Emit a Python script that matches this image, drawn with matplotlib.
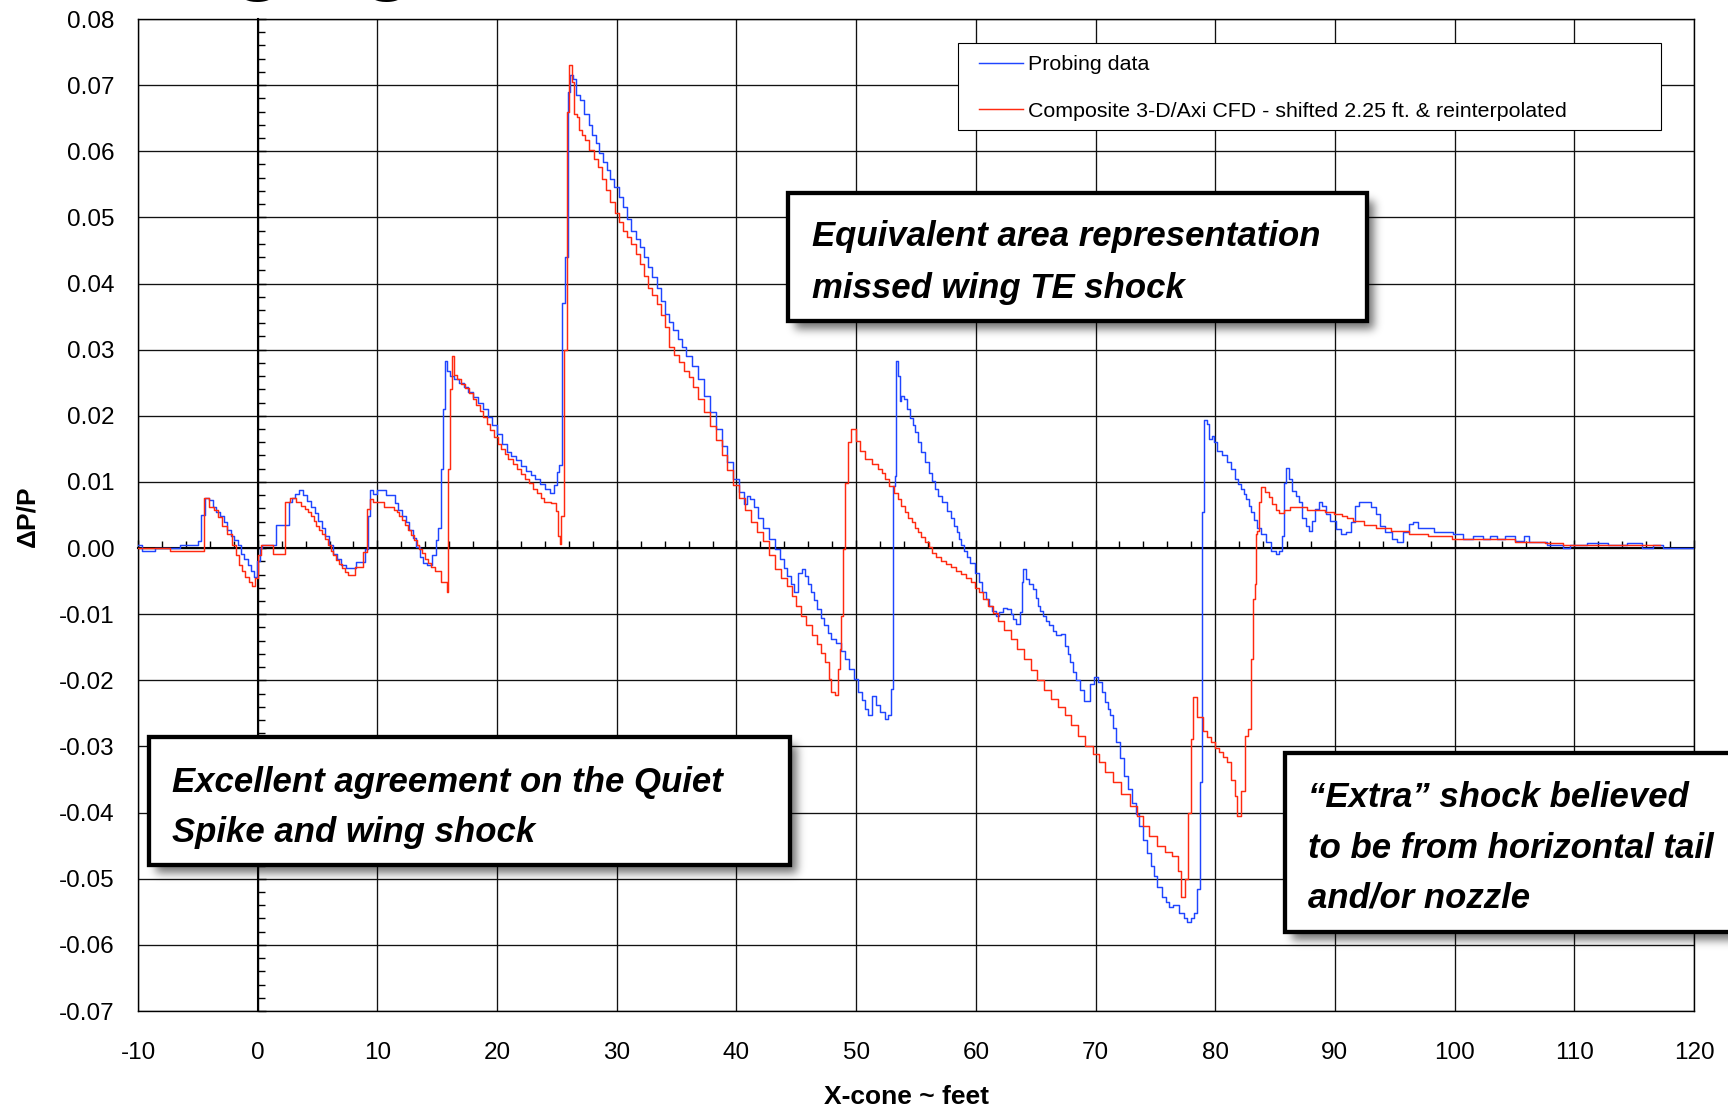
import numpy as np
import matplotlib
matplotlib.use("Agg")
import matplotlib.pyplot as plt
from matplotlib.patches import Rectangle
from matplotlib.ticker import MultipleLocator
from matplotlib import font_manager

plt.rcParams["font.family"] = ["Liberation Sans", "DejaVu Sans"]
plt.rcParams["axes.unicode_minus"] = False

# ---------------------------------------------------------------- data
probe_x = [-10, -9.4, -7.8, -5.2, -4.8, -4.6, -4.2, -3.9, -3.6, -3.3, -3.0, -2.7, -2.4, -2.1,
           -1.8, -1.5, -1.3, -1.0, -0.7, -0.4, -0.2, 0.1, 0.3, 0.5, 2.5, 2.7, 3.0, 3.3, 3.6,
           4.0, 4.3, 4.6, 4.9, 5.2, 5.5, 5.8, 6.1, 6.4, 6.8, 7.2, 7.6, 8.8, 9.15, 9.3, 9.5,
           9.8, 10.2, 11.3, 11.6, 11.9, 12.2, 12.5, 12.8, 13.1, 13.4, 13.7, 14.0, 14.3, 14.8,
           15.0, 15.2, 15.4, 15.55, 15.7, 15.9, 16.2, 16.6, 17.0, 17.4, 17.8, 18.2, 18.6, 19.0,
           19.4, 19.8, 20.2, 20.6, 21.0, 21.4, 21.8, 22.2, 22.6, 23.0, 23.4, 23.8, 24.2, 24.6,
           24.9, 25.1, 25.3, 25.6, 25.8, 26.0, 26.2, 26.5, 26.7, 27.1, 27.5, 27.8, 28.1, 28.4,
           28.7, 29.0, 29.3, 29.6, 30.0, 30.35, 30.7, 31.05, 31.4, 31.75, 32.1, 32.45, 32.8,
           33.15, 33.5, 33.85, 34.2, 34.55, 34.9, 35.25, 35.6, 36.0, 36.5, 37.0, 37.5, 38.0,
           38.5, 39.0, 39.5, 40.0, 40.4, 40.8, 41.0, 41.3, 41.6, 42.0, 42.5, 43.0, 43.5, 43.8,
           44.1, 44.4, 44.7, 44.9, 45.35, 45.6, 45.8, 46.1, 46.35, 46.6, 46.9, 47.2, 47.5,
           47.75, 48.0, 48.6, 48.9, 49.2, 49.6, 50.0, 50.3, 50.6, 50.85, 51.1, 51.5, 51.8,
           52.25, 52.5, 52.8, 52.95, 53.2, 53.3, 53.4, 53.6, 53.7, 53.85, 54.1, 54.35, 54.6,
           54.85, 55.05, 55.3, 55.6, 55.9, 56.2, 56.45, 56.7, 57.0, 57.3, 57.85, 58.05, 58.3,
           58.5, 58.7, 58.9, 59.1, 59.4, 59.7, 60.1, 60.4, 60.7, 61.0, 61.2, 61.5, 61.8, 62.1,
           62.4, 62.8, 63.0, 63.2, 63.5, 63.8, 63.9, 64.0, 64.3, 64.6, 64.9, 65.1, 65.3, 65.5,
           65.7, 66.0, 66.3, 66.6, 66.85, 67.3, 67.55, 67.8, 68.0, 68.25, 68.5, 68.9, 69.25,
           69.8, 70.0, 70.4, 70.65, 70.9, 71.1, 71.35, 71.6, 71.9, 72.2, 72.5, 72.85, 73.2,
           73.5, 73.8, 74.15, 74.5, 74.75, 75.0, 75.35, 75.7, 76.0, 76.2, 76.7, 77.2, 77.5,
           77.8, 78.1, 78.3, 78.6, 78.8, 78.95, 79.15, 79.45, 79.55, 79.85, 80.0, 80.35, 80.8,
           81.2, 81.5, 81.8, 82.0, 82.25, 82.5, 82.7, 82.9, 83.1, 83.35, 83.6, 84.0, 84.4,
           84.9, 85.2, 85.5, 85.7, 85.85, 86.0, 86.3, 86.6, 86.85, 87.1, 87.4, 87.7, 88.0,
           88.2, 88.5, 88.8, 89.1, 89.4, 89.85, 90.3, 90.7, 91.2, 91.5, 91.9, 92.2, 92.9, 93.2,
           93.65, 93.9, 94.5, 95.0, 95.4, 96.0, 96.4, 96.7, 97.2, 99.3, 100.4, 101.0, 102.0,
           102.7, 103.2, 103.9, 104.5, 105.6, 106.0, 106.5, 108.9, 109.2, 110.0, 112.2, 113.4,
           115.4, 115.9, 117.2, 117.6, 120.0]
probe_y = [0.0004, -0.0004, 0.0, 0.0004, 0.001, 0.005, 0.0075, 0.0072, 0.0062, 0.0055, 0.0048,
           0.0039, 0.0028, 0.0019, 0.0012, 0.0004, -0.0009, -0.0017, -0.0026, -0.0035, -0.0044,
           -0.002, 0.0, 0.0004, 0.0035, 0.0069, 0.0075, 0.0082, 0.0088, 0.008, 0.0071, 0.0062,
           0.0053, 0.0041, 0.003, 0.0019, 0.0004, -0.0009, -0.0017, -0.0026, -0.003, -0.0021,
           -0.0001, 0.0049, 0.0088, 0.0082, 0.0088, 0.008, 0.0068, 0.0058, 0.0048, 0.0039,
           0.0028, 0.0015, 0.0001, -0.0014, -0.0022, -0.0026, -0.0011, 0.0012, 0.003, 0.012,
           0.021, 0.0283, 0.0268, 0.026, 0.0255, 0.025, 0.0243, 0.0236, 0.0228, 0.022, 0.021,
           0.0198, 0.0186, 0.0172, 0.0158, 0.0146, 0.0139, 0.0133, 0.0124, 0.0116, 0.011,
           0.0104, 0.0097, 0.0089, 0.0083, 0.0095, 0.0115, 0.0125, 0.037, 0.044, 0.069, 0.0715,
           0.071, 0.0685, 0.0677, 0.0657, 0.064, 0.0625, 0.0612, 0.0598, 0.0584, 0.0571,
           0.0558, 0.0546, 0.0531, 0.0516, 0.0498, 0.048, 0.0468, 0.0455, 0.044, 0.0425,
           0.041, 0.0394, 0.0374, 0.0354, 0.0342, 0.0329, 0.0316, 0.0304, 0.029, 0.0275,
           0.0255, 0.023, 0.0205, 0.018, 0.0155, 0.013, 0.0105, 0.0085, 0.0066, 0.0078, 0.0074,
           0.0062, 0.0046, 0.003, 0.0014, -0.0002, -0.0017, -0.003, -0.0042, -0.0055, -0.0067,
           -0.0037, -0.0032, -0.0042, -0.0055, -0.0067, -0.0079, -0.0092, -0.0105, -0.0117,
           -0.0128, -0.0138, -0.0143, -0.0156, -0.0168, -0.0183, -0.0198, -0.0218, -0.023,
           -0.0243, -0.0253, -0.0223, -0.0238, -0.0248, -0.0258, -0.0253, -0.0213, 0.0094,
           0.0109, 0.0283, 0.026, 0.0223, 0.023, 0.0225, 0.021, 0.0197, 0.0186, 0.0175, 0.016,
           0.0145, 0.013, 0.0114, 0.0101, 0.0089, 0.0079, 0.0069, 0.0056, 0.0045, 0.0034,
           0.0024, 0.0014, 0.0005, -0.0004, -0.0013, -0.0022, -0.0037, -0.0052, -0.0067,
           -0.0077, -0.0087, -0.0095, -0.0102, -0.0096, -0.009, -0.0092, -0.01, -0.0107,
           -0.0115, -0.0097, -0.0052, -0.0032, -0.0047, -0.0055, -0.0062, -0.0075, -0.0087,
           -0.0095, -0.0102, -0.011, -0.0117, -0.0125, -0.0132, -0.013, -0.0148, -0.016,
           -0.0173, -0.0187, -0.02, -0.0215, -0.0231, -0.0205, -0.0195, -0.0203, -0.0218,
           -0.0233, -0.0243, -0.0253, -0.0272, -0.0294, -0.0318, -0.0344, -0.0365, -0.0385,
           -0.0402, -0.042, -0.0441, -0.0461, -0.048, -0.0496, -0.0512, -0.0527, -0.0535,
           -0.0542, -0.054, -0.0552, -0.056, -0.0565, -0.056, -0.0552, -0.0516, -0.0354,
           0.0054, 0.0194, 0.0188, 0.0165, 0.017, 0.016, 0.0147, 0.014, 0.013, 0.012, 0.0105,
           0.0097, 0.0089, 0.0081, 0.0074, 0.0064, 0.0054, 0.0042, 0.0031, 0.0021, 0.0009,
           -0.0004, -0.0009, -0.0004, 0.0019, 0.0099, 0.0121, 0.0105, 0.0087, 0.0078, 0.0069,
           0.0046, 0.0034, 0.0026, 0.0041, 0.0059, 0.007, 0.0064, 0.0052, 0.0041, 0.0029,
           0.0021, 0.0024, 0.0039, 0.0064, 0.007, 0.007, 0.0062, 0.0052, 0.0034, 0.0024,
           0.0014, 0.0009, 0.0024, 0.0036, 0.004, 0.0031, 0.0024, 0.0021, 0.0014, 0.0019,
           0.0014, 0.0019, 0.0014, 0.0019, 0.0011, 0.0018, 0.0009, 0.0004, 0.0, 0.0005, 0.0008,
           0.0004, 0.0008, 0.0, 0.0004, 0.0, 0.0]

cfd_x = [-10, -4.7, -4.35, -3.85, -3.45, -3.1, -2.8, -2.3, -2.0, -1.7, -1.4, -1.15, -0.9, -0.6,
         -0.4, -0.1, 0.15, 0.4, 2.1, 2.5, 2.9, 3.5, 3.8, 4.05, 4.3, 4.55, 4.8, 5.0, 5.25, 5.5,
         5.75, 6.0, 6.2, 6.45, 6.7, 6.9, 7.15, 7.4, 7.7, 8.6, 9.0, 9.25, 9.45, 9.9, 11.2, 11.5,
         11.7, 11.95, 12.2, 12.45, 12.7, 12.95, 13.2, 13.4, 13.6, 13.85, 14.1, 14.35, 14.6,
         15.0, 15.7, 15.85, 16.0, 16.15, 16.3, 16.5, 16.8, 17.1, 17.5, 17.8, 18.1, 18.4, 18.7,
         19.0, 19.3, 19.6, 19.9, 20.2, 20.5, 20.8, 21.1, 21.5, 21.85, 22.2, 22.5, 22.8, 23.15,
         23.5, 23.8, 24.1, 24.9, 25.0, 25.15, 25.3, 25.45, 25.8, 25.9, 26.1, 26.4, 26.5, 26.8,
         26.95, 27.2, 27.5, 27.9, 28.25, 28.6, 28.95, 29.3, 29.65, 30.0, 30.35, 30.7, 31.05,
         31.4, 31.75, 32.1, 32.45, 32.8, 33.15, 33.5, 33.85, 34.2, 34.6, 35.0, 35.4, 35.8,
         36.2, 36.6, 37.0, 37.5, 38.0, 38.5, 39.0, 39.5, 40.0, 40.5, 41.0, 41.5, 42.0, 42.5,
         43.0, 43.5, 44.0, 44.4, 44.8, 45.2, 45.6, 46.1, 46.6, 46.9, 47.2, 47.6, 47.85, 48.0,
         48.45, 48.55, 48.7, 48.85, 49.0, 49.2, 49.45, 49.7, 50.2, 50.4, 51.0, 51.7, 52.0,
         52.25, 52.6, 52.95, 53.3, 53.65, 53.9, 54.2, 54.5, 54.8, 55.05, 55.3, 55.6, 55.9,
         56.2, 56.5, 56.9, 57.3, 57.7, 58.15, 58.6, 59.0, 59.4, 59.8, 60.1, 60.4, 60.8, 61.2,
         61.65, 62.1, 62.65, 63.2, 63.75, 64.3, 64.85, 65.4, 66.0, 66.6, 67.15, 67.7, 68.25,
         68.8, 69.5, 70.0, 70.5, 71.1, 71.8, 72.5, 73.2, 73.7, 74.2, 74.8, 75.5, 76.1, 76.7,
         77.0, 77.3, 77.65, 77.85, 78.05, 78.25, 78.75, 79.2, 79.5, 79.8, 80.15, 80.5, 80.85,
         81.2, 81.5, 81.75, 81.95, 82.4, 82.6, 82.9, 83.05, 83.25, 83.35, 83.4, 83.6, 83.7,
         83.9, 84.45, 84.6, 84.9, 85.2, 85.5, 86.0, 86.5, 88.9, 89.5, 90.4, 90.8, 91.2, 91.9,
         92.9, 93.9, 95.4, 96.9, 98.6, 101.0, 103.9, 106.2, 108.9, 109.2, 117.2]
cfd_y = [0.0, -0.0005, 0.0075, 0.0062, 0.0057, 0.0047, 0.0034, 0.0022, 0.0004, -0.0011,
         -0.0026, -0.0035, -0.0044, -0.0051, -0.0057, -0.0046, -0.0011, 0.0004, -0.0009,
         0.0069, 0.0075, 0.0069, 0.0064, 0.0059, 0.0054, 0.0049, 0.0041, 0.0034, 0.0028,
         0.0022, 0.0013, 0.0004, -0.0004, -0.0011, -0.0018, -0.0024, -0.003, -0.0036, -0.004,
         -0.0029, -0.0006, 0.0059, 0.0074, 0.0069, 0.0062, 0.0058, 0.0054, 0.0048, 0.0042,
         0.0035, 0.0027, 0.002, 0.0012, 0.0005, -0.0001, -0.0008, -0.0016, -0.0022, -0.0029,
         -0.0035, -0.0051, -0.0066, 0.012, 0.024, 0.029, 0.0262, 0.0255, 0.0248, 0.0242,
         0.0235, 0.0226, 0.0216, 0.0207, 0.0198, 0.0188, 0.0178, 0.0168, 0.0158, 0.015,
         0.0142, 0.0135, 0.0127, 0.012, 0.0112, 0.0105, 0.0098, 0.009, 0.0083, 0.0076, 0.007,
         0.0068, 0.0056, 0.0019, 0.0006, 0.0048, 0.03, 0.066, 0.073, 0.0705, 0.0657, 0.0652,
         0.0632, 0.0625, 0.0617, 0.0602, 0.0589, 0.0576, 0.0558, 0.0541, 0.0523, 0.0506,
         0.0493, 0.048, 0.047, 0.046, 0.0445, 0.043, 0.0412, 0.0394, 0.0382, 0.0369, 0.0352,
         0.0334, 0.0304, 0.0292, 0.0282, 0.0268, 0.0258, 0.0244, 0.0225, 0.0205, 0.0185,
         0.0163, 0.014, 0.0118, 0.0095, 0.0075, 0.0058, 0.004, 0.0025, 0.001, -0.001, -0.0032,
         -0.0045, -0.0057, -0.0072, -0.0087, -0.0102, -0.0117, -0.0132, -0.0145, -0.0158,
         -0.0173, -0.0198, -0.0218, -0.0222, -0.0183, -0.0153, -0.0102, -0.0002, 0.0099,
         0.016, 0.018, 0.0162, 0.0147, 0.0135, 0.0127, 0.012, 0.0114, 0.0104, 0.0094, 0.0084,
         0.0074, 0.0064, 0.0054, 0.0046, 0.0039, 0.0031, 0.0024, 0.0016, 0.0009, 0.0001,
         -0.0007, -0.0013, -0.0019, -0.0024, -0.0029, -0.0034, -0.0039, -0.0045, -0.0052,
         -0.006, -0.0067, -0.0077, -0.0087, -0.0098, -0.011, -0.0124, -0.0138, -0.0153,
         -0.0168, -0.0184, -0.02, -0.0214, -0.0228, -0.024, -0.0253, -0.0268, -0.0284,
         -0.0299, -0.0312, -0.0324, -0.0338, -0.0354, -0.0372, -0.039, -0.0405, -0.042,
         -0.0436, -0.0451, -0.046, -0.0466, -0.0489, -0.0527, -0.0501, -0.04, -0.0289,
         -0.0225, -0.0256, -0.0276, -0.0285, -0.0294, -0.0302, -0.0309, -0.0316, -0.0324,
         -0.035, -0.0375, -0.0405, -0.0367, -0.0284, -0.0273, -0.0167, -0.0077, -0.0055,
         0.0021, 0.0026, 0.0069, 0.0093, 0.0085, 0.0077, 0.0067, 0.0057, 0.0053, 0.0058,
         0.0062, 0.0058, 0.0054, 0.0052, 0.0049, 0.0046, 0.0041, 0.0035, 0.0031, 0.0026,
         0.0021, 0.0019, 0.0014, 0.0013, 0.0009, 0.0008, 0.0005, 0.0005]

x_ticks = [-10, 0, 10, 20, 30, 40, 50, 60, 70, 80, 90, 100, 110, 120]
y_ticks = [-0.07, -0.06, -0.05, -0.04, -0.03, -0.02, -0.01, 0.0,
           0.01, 0.02, 0.03, 0.04, 0.05, 0.06, 0.07, 0.08]
y_tick_labels = ["-0.07", "-0.06", "-0.05", "-0.04", "-0.03", "-0.02", "-0.01", "0.00",
                 "0.01", "0.02", "0.03", "0.04", "0.05", "0.06", "0.07", "0.08"]
series_labels = ["Probing data",
                 "Composite 3-D/Axi CFD - shifted 2.25 ft. & reinterpolated"]
note_te = ["Equivalent area representation", "missed wing TE shock"]
note_spike = ["Excellent agreement on the Quiet", "Spike and wing shock"]
note_tail = ["\u201cExtra\u201d shock believed", "to be from horizontal tail", "and/or nozzle"]

# ---------------------------------------------------------------- layout helpers
W, H = 1728, 1107
fig = plt.figure(figsize=(W / 100, H / 100), dpi=100)
fig.patch.set_facecolor("white")


def fx(px):
    return px / W


def fy(py):
    return 1 - py / H


rect = [fx(138), fy(1011), fx(1694) - fx(138), fy(19) - fy(1011)]

names = {f.name for f in font_manager.fontManager.ttflist}
narrow = "Liberation Sans Narrow" in names
note_family = "Liberation Sans Narrow" if narrow else "Liberation Sans"
note_size = 30 if narrow else 25

# ---------------------------------------------------------------- base axes: frame, grid, labels
ax = fig.add_axes(rect)
ax.set_xlim(-10, 120)
ax.set_ylim(-0.07, 0.08)
ax.set_xticks(x_ticks)
ax.set_xticklabels([str(v) for v in x_ticks])
ax.set_yticks(y_ticks)
ax.set_yticklabels(y_tick_labels)
ax.tick_params(axis="both", length=0, labelsize=17.5, colors="black")
ax.tick_params(axis="x", pad=22.5)
ax.tick_params(axis="y", pad=17)
ax.grid(True, color="#111111", linewidth=0.95)
for s in ax.spines.values():
    s.set_linewidth(1.0)
    s.set_color("black")

# ---------------------------------------------------------------- overlay axes: crossing axes + data
ax2 = fig.add_axes(rect)
ax2.patch.set_visible(False)
ax2.set_xlim(-10, 120)
ax2.set_ylim(-0.07, 0.08)
ax2.spines["top"].set_visible(False)
ax2.spines["right"].set_visible(False)
ax2.spines["left"].set_position(("data", 0))
ax2.spines["bottom"].set_position(("data", 0))
for side in ("left", "bottom"):
    ax2.spines[side].set_linewidth(1.5)
    ax2.spines[side].set_color("black")
ax2.xaxis.set_major_locator(MultipleLocator(10))
ax2.xaxis.set_minor_locator(MultipleLocator(2))
ax2.yaxis.set_major_locator(MultipleLocator(0.01))
ax2.yaxis.set_minor_locator(MultipleLocator(0.002))
ax2.tick_params(which="both", direction="in", labelbottom=False, labelleft=False,
                color="black", width=1.0)
ax2.tick_params(which="major", length=6)
ax2.tick_params(which="minor", length=5)

l_probe, = ax2.plot(probe_x, probe_y, drawstyle="steps-mid", color="#1f45ff",
                    linewidth=1.05, zorder=3, label=series_labels[0])
l_cfd, = ax2.plot(cfd_x, cfd_y, drawstyle="steps-mid", color="#ff2a10",
                  linewidth=1.05, zorder=3, label=series_labels[1])

# legend frame and entries
ax2.add_artist(Rectangle((fx(958), fy(130)), fx(1661) - fx(958), fy(43) - fy(130),
                         transform=fig.transFigure, facecolor="white", edgecolor="black",
                         linewidth=0.8, zorder=4, clip_on=False))
leg = ax2.legend(handles=[l_probe, l_cfd], loc="upper left",
                 bbox_to_anchor=(fx(979), fy(55)), bbox_transform=fig.transFigure,
                 frameon=False, borderpad=0, borderaxespad=0, handlelength=2.05,
                 handletextpad=0.22, labelspacing=1.3, fontsize=15.4)
leg.set_zorder(5)

# ---------------------------------------------------------------- axis titles
fig.text(fx(27), fy(516), "\u0394P/P", rotation=90, fontsize=19, fontweight="bold",
         ha="center", va="center")
fig.text(fx(906), fy(1097), "X-cone ~ feet", fontsize=19, fontweight="bold",
         ha="center", va="center")

# slide heading, mostly above the visible area
fig.text(fx(79), fy(-16), "Merging Shocks", fontsize=62, fontweight="bold",
         ha="left", va="baseline")

# ---------------------------------------------------------------- callout boxes with soft shadows
boxes = [
    ((788, 193, 1367, 321), note_te, 812, [246, 298]),
    ((149, 737, 790, 865), note_spike, 172, [792, 842]),
    ((1285, 753, 1745, 932), note_tail, 1308, [807, 858, 908]),
]

# shadow mask: each box offset down-right, then a separable gaussian blur
mask = np.zeros((H, W))
dx, dy = 7, 8
for (x0, y0, x1, y1), _, _, _ in boxes:
    mask[int(y0 + dy):int(min(y1 + dy, H)), int(x0 + dx):int(min(x1 + dx, W))] = 1.0
r, sigma = 14, 4.5
k = np.exp(-0.5 * (np.arange(-r, r + 1) / sigma) ** 2)
k /= k.sum()
padded = np.pad(mask, r, mode="edge")
rows = sum(w * padded[i:i + H, :] for i, w in enumerate(k))
blur = sum(w * rows[:, i:i + W] for i, w in enumerate(k))
shadow = np.zeros((H, W, 4))
shadow[..., 3] = 0.55 * blur
fig.figimage(shadow, 0, 0, origin="upper", zorder=9)

for (x0, y0, x1, y1), lines, tx, baselines in boxes:
    fig.patches.append(Rectangle((fx(x0), fy(y1)), fx(x1) - fx(x0), fy(y0) - fy(y1),
                                 transform=fig.transFigure, facecolor="white",
                                 edgecolor="black", linewidth=3.1, zorder=10))
    for line, b in zip(lines, baselines):
        fig.text(fx(tx), fy(b), line, family=[note_family, "Liberation Sans"],
                 fontsize=note_size, fontweight="bold", fontstyle="italic",
                 ha="left", va="baseline", zorder=11)

fig.savefig("out.png", dpi=100)
